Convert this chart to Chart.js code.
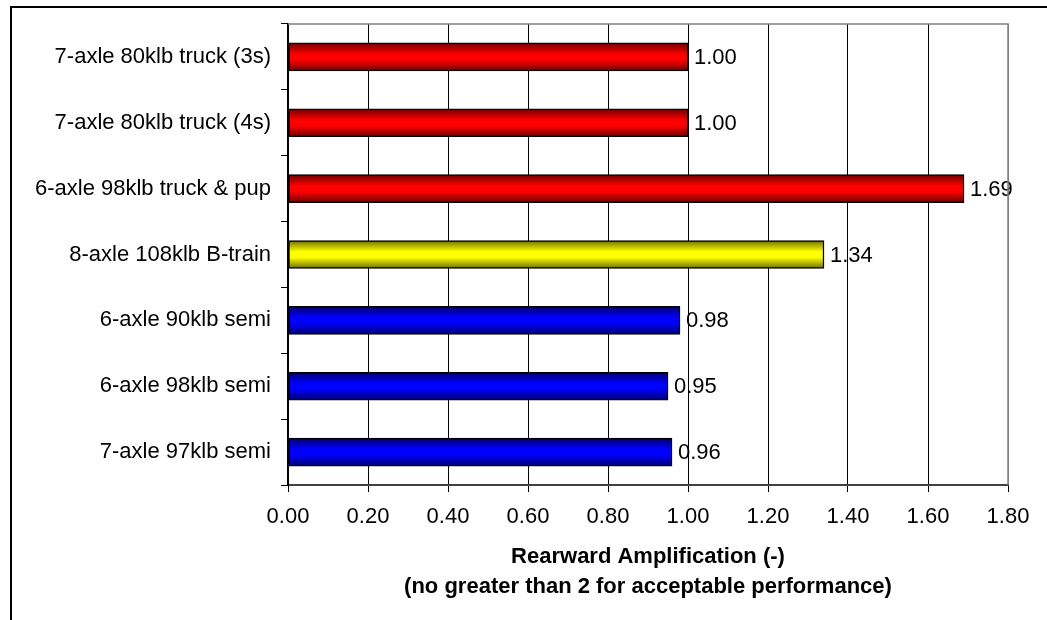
<!DOCTYPE html>
<html>
<head>
<meta charset="utf-8">
<script src="https://cdn.jsdelivr.net/npm/chart.js@4.4.1/dist/chart.umd.min.js"></script>
<style>
  html, body { margin: 0; padding: 0; background: #fff; }
  #wrap { width: 1047px; height: 620px; }
</style>
</head>
<body>
<div id="wrap"><canvas id="rearward-amp"></canvas></div>
<script>
// vehicle configs, top to bottom
let vehicles = [
    '7-axle 80klb truck (3s)',
    '7-axle 80klb truck (4s)',
    '6-axle 98klb truck & pup',
    '8-axle 108klb B-train',
    '6-axle 90klb semi',
    '6-axle 98klb semi',
    '7-axle 97klb semi'
];
let amplification = [1.00, 1.00, 1.69, 1.34, 0.98, 0.95, 0.96];
// bright / dark pairs for the shaded bars
let brightColors = ['#ff0000', '#ff0000', '#ff0000', '#ffff00', '#0000ff', '#0000ff', '#0000ff'];
let darkColors = ['#6e0000', '#6e0000', '#6e0000', '#6e6e00', '#00006e', '#00006e', '#00006e'];
let xTicks = [0, 0.2, 0.4, 0.6, 0.8, 1.0, 1.2, 1.4, 1.6, 1.8];
let axisTitle = ['Rearward Amplification (-)', '(no greater than 2 for acceptable performance)'];

const BAR_H = 28;
const FONT = "'Liberation Sans', Arial, sans-serif";
const FS = 22;

function barFill(ctx) {
    let chart = ctx.chart;
    let i = ctx.dataIndex;
    if (!chart.chartArea || !chart.scales.y) return brightColors[i];
    let yc = chart.scales.y.getPixelForValue(i);
    let g = chart.ctx.createLinearGradient(0, yc - BAR_H / 2, 0, yc + BAR_H / 2);
    g.addColorStop(0, darkColors[i]);
    g.addColorStop(0.4, brightColors[i]);
    g.addColorStop(0.6, brightColors[i]);
    g.addColorStop(1, darkColors[i]);
    return g;
}

// outer frame + top/right plot border
const framePlugin = {
    id: 'frame',
    beforeDraw(chart) {
        let c = chart.ctx;
        c.save();
        c.fillStyle = '#fff';
        c.fillRect(0, 0, chart.width, chart.height);
        c.strokeStyle = '#000';
        c.lineWidth = 2;
        c.beginPath();
        c.moveTo(11, chart.height);
        c.lineTo(11, 7);
        c.lineTo(chart.width, 7);
        c.stroke();
        c.restore();
    },
    afterDraw(chart) {
        let a = chart.chartArea;
        let c = chart.ctx;
        c.save();
        c.strokeStyle = '#808080';
        c.lineWidth = 1.5;
        c.beginPath();
        c.moveTo(a.left, a.top);
        c.lineTo(a.right, a.top);
        c.lineTo(a.right, a.bottom);
        c.stroke();
        c.restore();
    }
};

// value labels right of each bar
const valueLabels = {
    id: 'valueLabels',
    afterDatasetsDraw(chart) {
        let c = chart.ctx;
        let meta = chart.getDatasetMeta(0);
        c.save();
        c.font = FS + 'px ' + FONT;
        c.fillStyle = '#000';
        c.textAlign = 'left';
        c.textBaseline = 'middle';
        meta.data.forEach((bar, i) => {
            c.fillText(amplification[i].toFixed(2), bar.x + 6, bar.y + 1);
        });
        c.restore();
    }
};

new Chart('rearward-amp', {
    type: 'bar',
    data: {
        labels: vehicles,
        datasets: [{
            data: amplification,
            backgroundColor: barFill,
            borderColor: '#000',
            borderWidth: 1.5,
            borderSkipped: false,
            barThickness: BAR_H
        }]
    },
    options: {
        indexAxis: 'y',
        responsive: true,
        maintainAspectRatio: false,
        animation: false,
        layout: { padding: { left: 0, top: 24, right: 39, bottom: 0 } },
        scales: {
            x: {
                min: 0,
                max: 1.8,
                afterBuildTicks(scale) {
                    scale.ticks = xTicks.map(v => ({ value: v }));
                },
                afterFit(scale) { scale.height = 135; },
                ticks: {
                    color: '#000',
                    font: { family: FONT, size: FS },
                    padding: 12,
                    maxRotation: 0,
                    callback: v => Number(v).toFixed(2)
                },
                grid: {
                    color: ctx => ctx.index === xTicks.length - 1 ? '#808080' : '#000',
                    lineWidth: 1,
                    tickLength: 7,
                    tickColor: '#000'
                },
                border: { color: '#404040', width: 2 },
                title: {
                    display: true,
                    text: axisTitle,
                    color: '#000',
                    font: { family: FONT, size: FS, weight: 'bold', lineHeight: 30 / FS },
                    padding: { top: 0, bottom: 18 }
                }
            },
            y: {
                afterFit(scale) { scale.width = 288; },
                ticks: {
                    color: '#000',
                    font: { family: FONT, size: FS },
                    padding: 10
                },
                grid: {
                    offset: true,
                    drawOnChartArea: false,
                    tickLength: 7,
                    tickColor: '#000',
                    lineWidth: 1
                },
                border: { color: '#000', width: 2 }
            }
        },
        plugins: {
            legend: { display: false },
            tooltip: { enabled: false }
        }
    },
    plugins: [framePlugin, valueLabels]
});
</script>
</body>
</html>
